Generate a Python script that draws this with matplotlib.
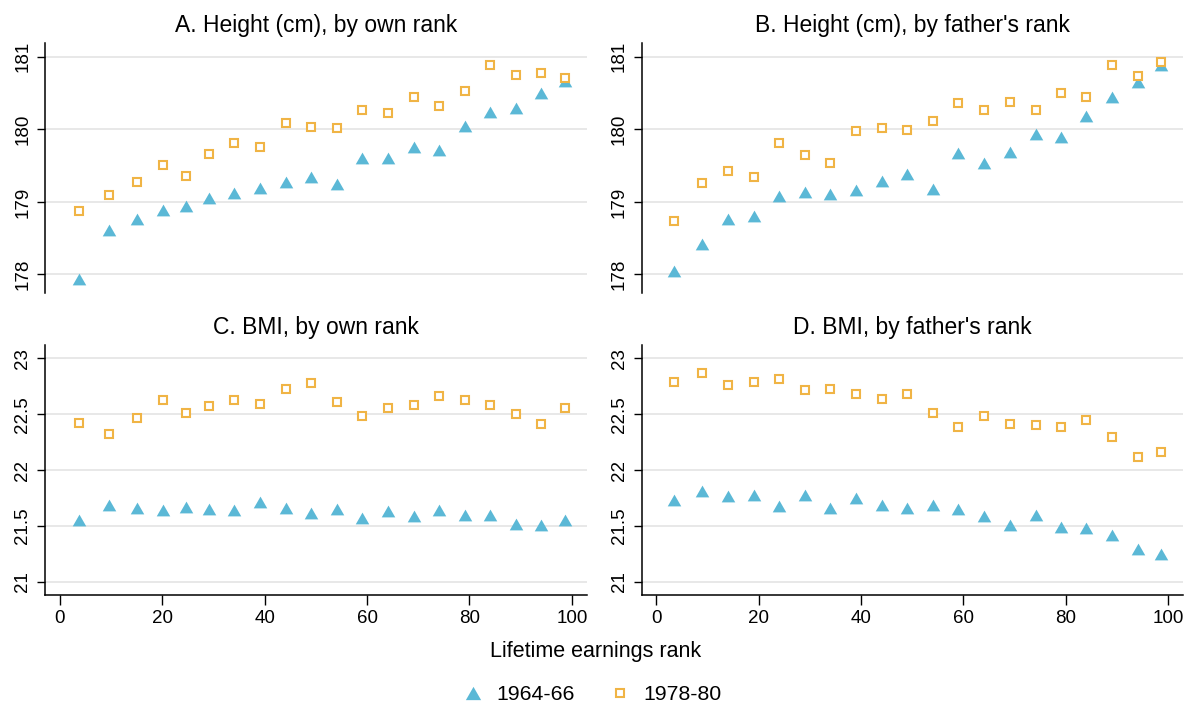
import matplotlib
matplotlib.use("Agg")
import matplotlib.pyplot as plt
from matplotlib.lines import Line2D

plt.rcParams['font.family'] = ['Liberation Sans', 'DejaVu Sans']

# ---- data ----
rank_own = [3.7, 9.6, 15.1, 20.1, 24.6, 29.1, 34.1, 39.1, 44.1, 49.1,
            54.1, 59.0, 64.0, 69.1, 74.1, 79.1, 84.1, 89.1, 94.0, 98.6]
rank_father = [3.5, 9.0, 14.0, 19.0, 24.0, 29.0, 34.0, 39.0, 44.0, 49.0,
               54.0, 59.0, 64.0, 69.0, 74.1, 79.0, 84.0, 89.1, 94.1, 98.5]

height_own_6466 = [177.94, 178.61, 178.77, 178.89, 178.95, 179.06, 179.12, 179.19, 179.28, 179.34,
                   179.24, 179.60, 179.61, 179.76, 179.72, 180.04, 180.24, 180.30, 180.50, 180.67]
height_own_7880 = [178.87, 179.10, 179.27, 179.51, 179.36, 179.66, 179.81, 179.75, 180.09, 180.03,
                   180.02, 180.26, 180.22, 180.44, 180.32, 180.53, 180.89, 180.75, 180.78, 180.71]

height_fat_6466 = [178.05, 178.42, 178.76, 178.81, 179.08, 179.13, 179.11, 179.16, 179.29, 179.39,
                   179.18, 179.68, 179.54, 179.69, 179.94, 179.89, 180.18, 180.44, 180.65, 180.88]
height_fat_7880 = [178.73, 179.26, 179.43, 179.34, 179.81, 179.65, 179.53, 179.98, 180.02, 179.99,
                   180.11, 180.36, 180.26, 180.37, 180.26, 180.50, 180.45, 180.88, 180.74, 180.93]

bmi_own_6466 = [21.55, 21.69, 21.66, 21.64, 21.67, 21.65, 21.64, 21.71, 21.66, 21.62,
                21.65, 21.57, 21.63, 21.59, 21.64, 21.60, 21.60, 21.52, 21.51, 21.55]
bmi_own_7880 = [22.42, 22.32, 22.47, 22.63, 22.51, 22.57, 22.63, 22.59, 22.73, 22.78,
                22.61, 22.48, 22.56, 22.58, 22.66, 22.63, 22.58, 22.50, 22.41, 22.56]

bmi_fat_6466 = [21.73, 21.81, 21.77, 21.78, 21.68, 21.78, 21.66, 21.75, 21.69, 21.66,
                21.69, 21.65, 21.59, 21.51, 21.60, 21.49, 21.48, 21.42, 21.29, 21.25]
bmi_fat_7880 = [22.79, 22.87, 22.76, 22.79, 22.82, 22.72, 22.73, 22.68, 22.64, 22.68,
                22.51, 22.39, 22.48, 22.41, 22.40, 22.39, 22.45, 22.30, 22.12, 22.16]

titles = ["A. Height (cm), by own rank", "B. Height (cm), by father's rank",
          "C. BMI, by own rank", "D. BMI, by father's rank"]
series_labels = ["1964-66", "1978-80"]
height_ticks = [178, 179, 180, 181]
bmi_ticks = [21, 21.5, 22, 22.5, 23]
bmi_ticklabels = ["21", "21.5", "22", "22.5", "23"]
x_ticks = [0, 20, 40, 60, 80, 100]

# ---- style ----
BLUE = "#5BB8D6"
ORANGE = "#F0B445"
GRID = "#E6E6E6"
tri = [(-1, -0.87), (1, -0.87), (0, 0.87), (-1, -0.87)]

W, H = 1186, 707
fig = plt.figure(figsize=(W / 100, H / 100), dpi=100)

def ax_rect(l, r, t, b):
    return [l / W, 1 - b / H, (r - l) / W, (b - t) / H]

axA = fig.add_axes(ax_rect(45.3, 586.7, 43, 293.3))
axB = fig.add_axes(ax_rect(641.7, 1183.1, 43, 293.3))
axC = fig.add_axes(ax_rect(45.3, 586.7, 345, 594.5))
axD = fig.add_axes(ax_rect(641.7, 1183.1, 345, 594.5))

panels = [
    (axA, rank_own, height_own_6466, height_own_7880),
    (axB, rank_father, height_fat_6466, height_fat_7880),
    (axC, rank_own, bmi_own_6466, bmi_own_7880),
    (axD, rank_father, bmi_fat_6466, bmi_fat_7880),
]

for i, (ax, x, y1, y2) in enumerate(panels):
    ax.scatter(x, y1, marker=tri, s=95, color=BLUE, linewidths=0, zorder=3)
    ax.plot(x, y2, linestyle="none", marker="s", markersize=5.6,
            markerfacecolor="white", markeredgecolor=ORANGE, markeredgewidth=1.5, zorder=4)
    ax.set_xlim(-2.85, 102.9)
    ax.set_title(titles[i], fontsize=16.5, pad=8)
    for s in ["top", "right"]:
        ax.spines[s].set_visible(False)
    ax.spines["left"].set_linewidth(1.1)
    ax.spines["bottom"].set_linewidth(1.1)
    ax.yaxis.grid(True, color=GRID, linewidth=1.3)
    ax.set_axisbelow(True)
    ax.tick_params(axis="y", direction="out", length=6, width=1.0, pad=4, labelsize=13.5)
    if i < 2:
        ax.set_ylim(177.74, 181.19)
        ax.set_yticks(height_ticks)
        ax.set_yticklabels([str(t) for t in height_ticks], rotation=90, va="center")
        ax.spines["bottom"].set_visible(False)
        ax.set_xticks([])
    else:
        ax.set_ylim(20.886, 23.12)
        ax.set_yticks(bmi_ticks)
        ax.set_yticklabels(bmi_ticklabels, rotation=90, va="center")
        ax.set_xticks(x_ticks)
        ax.tick_params(axis="x", direction="out", length=7, width=1.0, pad=4, labelsize=13.5)

fig.text(0.5025, 1 - 651 / H, "Lifetime earnings rank", ha="center", va="center", fontsize=15.5)

handles = [
    Line2D([], [], linestyle="none", marker=tri, markersize=11, color=BLUE, markeredgewidth=0),
    Line2D([], [], linestyle="none", marker="s", markersize=5.6, markerfacecolor="white",
           markeredgecolor=ORANGE, markeredgewidth=1.5),
]
fig.legend(handles, series_labels, loc="center", bbox_to_anchor=(592 / W, 1 - 695 / H),
           ncol=2, frameon=False, fontsize=15.3, handlelength=1.0, handletextpad=0.6,
           columnspacing=1.6)

fig.savefig("out.png", dpi=100)
